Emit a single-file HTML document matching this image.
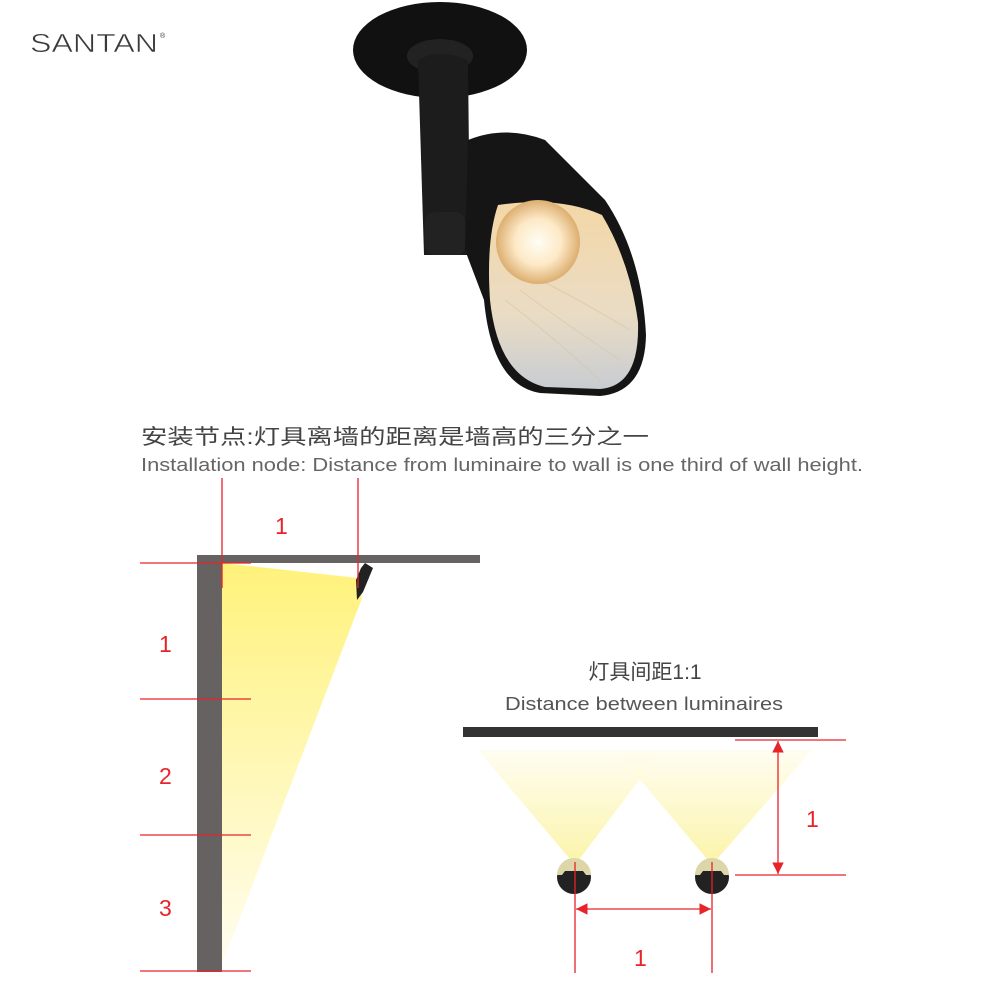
<!DOCTYPE html>
<html><head><meta charset="utf-8"><style>
html,body{margin:0;padding:0;background:#fff;}
svg{display:block;}
text{font-family:"Liberation Sans","Noto Sans CJK SC",sans-serif;}
</style></head><body>
<svg width="1000" height="1000" viewBox="0 0 1000 1000" xmlns="http://www.w3.org/2000/svg">
<defs>
<linearGradient id="wb" x1="0" y1="0" x2="0" y2="1">
<stop offset="0" stop-color="#fff27a"/><stop offset="1" stop-color="#fffdf0"/></linearGradient>
<linearGradient id="bb" x1="0" y1="1" x2="0" y2="0">
<stop offset="0" stop-color="#fbf3a0"/><stop offset="1" stop-color="#fffdf0"/></linearGradient>
<radialGradient id="glow" cx="0.5" cy="0.5" r="0.5">
<stop offset="0" stop-color="#fffdf5"/><stop offset="0.55" stop-color="#fde9c6"/><stop offset="1" stop-color="#dcae70"/></radialGradient>
<linearGradient id="refl" x1="0" y1="0" x2="0" y2="1">
<stop offset="0" stop-color="#f3d7a6"/><stop offset="0.6" stop-color="#eadcc4"/><stop offset="1" stop-color="#c8ccd2"/></linearGradient>
<marker id="ar" viewBox="0 0 10 10" refX="10" refY="5" markerWidth="9" markerHeight="9" orient="auto-start-reverse">
<path d="M0,0 L10,5 L0,10 z" fill="#e6242a"/></marker>
</defs>

<!-- logo -->
<text x="30" y="52" font-size="26" fill="#3a3a3a" textLength="128" lengthAdjust="spacingAndGlyphs" stroke="#fff" stroke-width="0.6">SANTAN</text>
<text x="160" y="38" font-size="7" fill="#333">®</text>

<!-- lamp -->
<ellipse cx="440" cy="50" rx="87" ry="48" fill="#111"/>
<ellipse cx="440" cy="56" rx="33" ry="17" fill="#222"/>
<path d="M418,60 Q440,48 468,60 L470,255 L424,255 Z" fill="#1c1c1c"/>
<path d="M468,140 Q505,125 545,140 L605,200 Q642,255 646,335 Q645,392 600,396 L540,393 Q492,385 484,300 L465,250 Z" fill="#151515"/>
<path d="M498,205 Q560,196 602,215 Q630,262 638,322 Q640,386 600,389 L545,387 Q498,376 490,300 Q486,240 498,205 Z" fill="url(#refl)"/>
<g stroke="#d6c3a4" stroke-width="1" opacity="0.6" fill="none">
<path d="M505,300 Q545,330 600,380"/><path d="M520,290 Q560,320 620,360"/><path d="M540,280 Q580,300 630,330"/>
</g>
<circle cx="538" cy="242" r="42" fill="url(#glow)"/>
<rect x="425" y="212" width="40" height="43" rx="10" fill="#222"/>

<!-- titles -->
<text x="141" y="444" font-size="21" fill="#444" textLength="508" lengthAdjust="spacingAndGlyphs">安装节点:灯具离墙的距离是墙高的三分之一</text>
<text x="141" y="471" font-size="18" fill="#666" textLength="722" lengthAdjust="spacingAndGlyphs">Installation node: Distance from luminaire to wall is one third of wall height.</text>

<!-- left diagram -->
<polygon points="222,563 358,578 362,598 222,965" fill="url(#wb)"/>
<rect x="197" y="555" width="25" height="417" fill="#666262"/>
<rect x="197" y="555" width="283" height="8" fill="#666262"/>
<path d="M365,563 L373,568 L363,592 L357,600 L356,580 L361,568 Z" fill="#222"/>
<g stroke="#e6242a" stroke-width="1.3">
<line x1="222" y1="478" x2="222" y2="588"/>
<line x1="358" y1="478" x2="358" y2="588"/>
<line x1="140" y1="563" x2="251" y2="563"/>
<line x1="140" y1="699" x2="251" y2="699"/>
<line x1="140" y1="835" x2="251" y2="835"/>
<line x1="140" y1="971" x2="251" y2="971"/>
</g>
<g fill="#e6242a" font-size="23">
<text x="275" y="534">1</text>
<text x="159" y="652">1</text>
<text x="159" y="784">2</text>
<text x="159" y="916">3</text>
</g>

<!-- right diagram -->
<text x="645" y="679" font-size="21" fill="#444" text-anchor="middle">灯具间距1:1</text>
<text x="505" y="710" font-size="18" fill="#555" textLength="278" lengthAdjust="spacingAndGlyphs">Distance between luminaires</text>
<rect x="463" y="727" width="355" height="10" fill="#333"/>
<polygon points="478,750 662,750 575,865" fill="url(#bb)" opacity="0.9"/>
<polygon points="615,750 812,750 712,865" fill="url(#bb)" opacity="0.9"/>
<circle cx="574" cy="877" r="17" fill="#222"/>
<path d="M557,875 A17,17 0 0 1 591,875 L586,875 L583,871 L565,871 L562,875 Z" fill="#dcd6a8"/>
<circle cx="712" cy="877" r="17" fill="#222"/>
<path d="M695,875 A17,17 0 0 1 729,875 L724,875 L721,871 L703,871 L700,875 Z" fill="#dcd6a8"/>
<g stroke="#e6242a" stroke-width="1.3">
<line x1="735" y1="740" x2="846" y2="740"/>
<line x1="735" y1="875" x2="846" y2="875"/>
<line x1="778" y1="741" x2="778" y2="874" marker-start="url(#ar)" marker-end="url(#ar)"/>
<line x1="575" y1="862" x2="575" y2="973"/>
<line x1="712" y1="862" x2="712" y2="973"/>
<line x1="576" y1="909" x2="711" y2="909" marker-start="url(#ar)" marker-end="url(#ar)"/>
</g>
<g fill="#e6242a" font-size="23">
<text x="806" y="827">1</text>
<text x="634" y="966">1</text>
</g>
</svg>
</body></html>
